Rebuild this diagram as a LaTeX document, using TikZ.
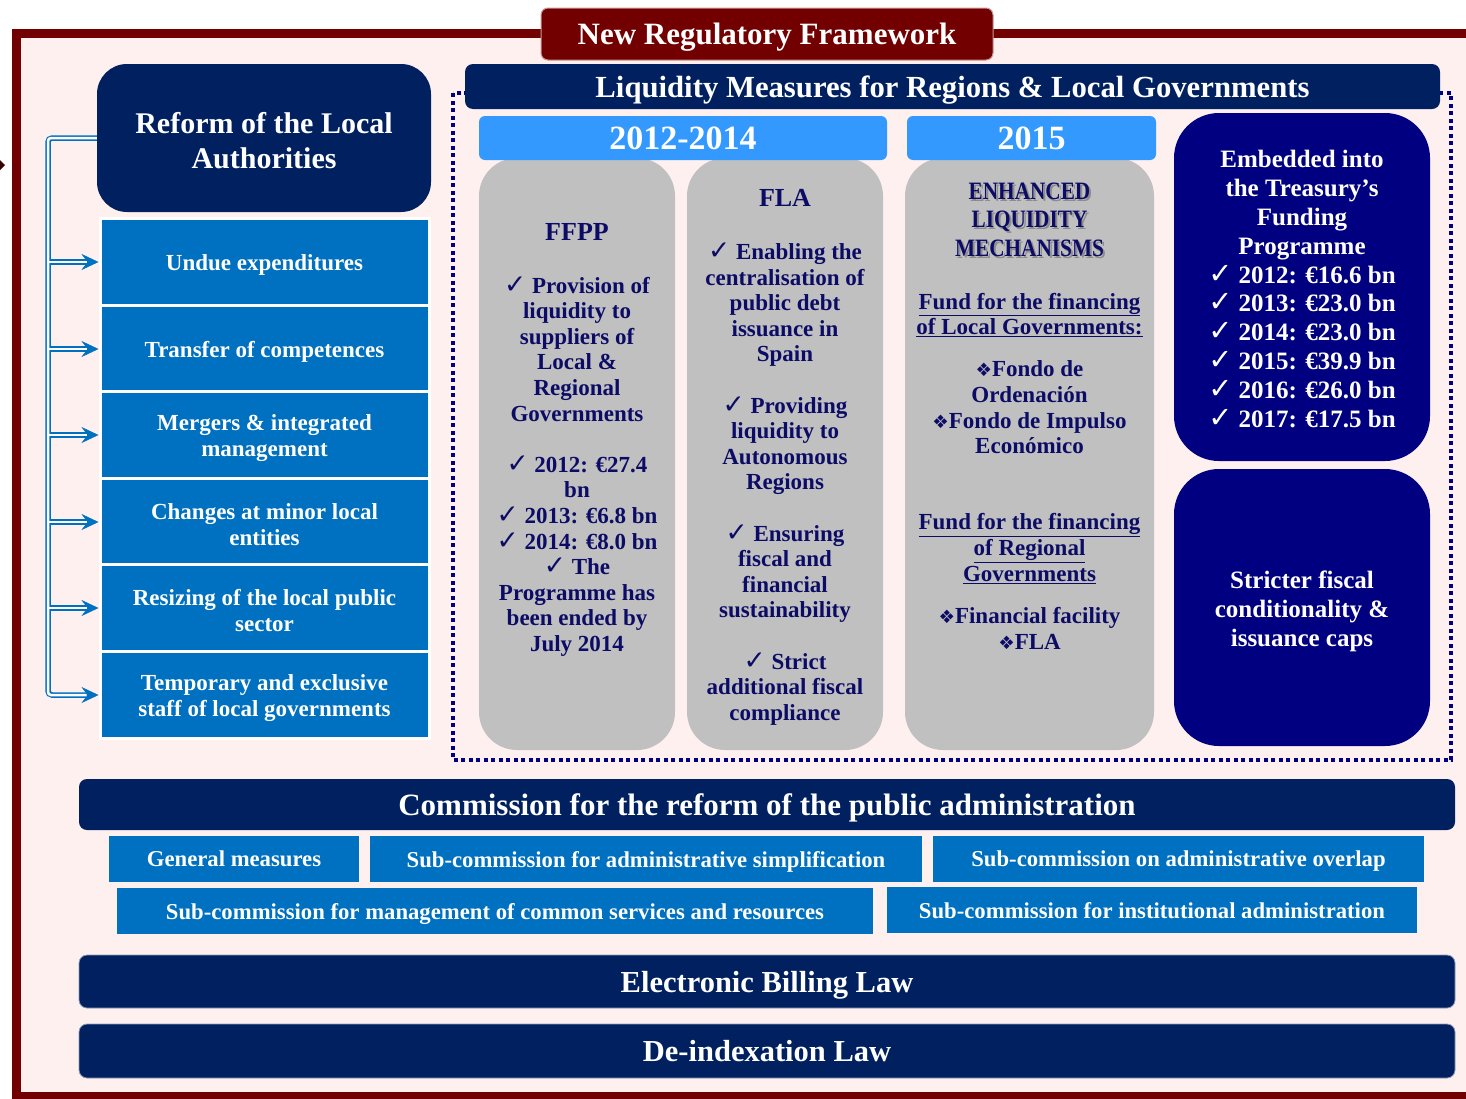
\documentclass[tikz,border=0pt]{standalone}
\usepackage{fontspec}
\setmainfont{Liberation Serif}
\newfontfamily\symfont[Scale=1.15]{DejaVu Sans}
\newfontfamily\dmfont[Scale=0.8]{DejaVu Sans}
\newfontfamily\narrowfont[FakeStretch=0.85]{Liberation Serif}
\usetikzlibrary{positioning,arrows.meta}

\definecolor{frameRed}{HTML}{720000}
\definecolor{paperPink}{HTML}{FFF0F0}
\definecolor{deepNavy}{HTML}{002060}
\definecolor{navyBlue}{HTML}{000080}
\definecolor{boxBlue}{HTML}{0070C0}
\definecolor{skyBlue}{HTML}{3399FF}
\definecolor{colGray}{HTML}{C0C0C0}
\definecolor{inkNavy}{HTML}{0C0C66}

\newcommand{\fs}[2]{\fontsize{#1}{#2}\selectfont}
\newcommand{\ck}{{\symfont ✓}\ }
\newcommand{\dm}{{\dmfont ❖}}

\tikzset{
  band/.style={fill=deepNavy, rounded corners=8pt, text=white, inner sep=0pt, text depth=0pt,
    font=\bfseries\fs{31}{35}},
  yearbox/.style={fill=skyBlue, rounded corners=6pt, text=white, inner sep=0pt,
    minimum height=44pt, font=\bfseries\fs{34}{38}},
  column/.style={fill=colGray, rounded corners=38pt, minimum height=592pt, inner sep=0pt},
  bigbox/.style={fill=navyBlue, rounded corners=45pt, minimum width=256pt, inner sep=0pt},
  leftbox/.style={fill=boxBlue, draw=white, line width=3pt, minimum width=329pt,
    minimum height=86.6pt, inner sep=0pt},
  boxTxt/.style={text=white, align=center, inner sep=0pt, font=\bfseries\fs{23}{26}},
  subbox/.style={fill=boxBlue, minimum height=46pt, text=white, inner sep=0pt, text depth=0pt,
    font=\bfseries\fs{22.7}{26}},
  colTxt/.style={text=inkNavy, align=center, inner sep=0pt, font=\bfseries\fs{23}{25.6}},
  colHead/.style={text=inkNavy, inner sep=0pt, font=\bfseries\fs{26}{30}},
  whiteTxt/.style={text=white, align=center, inner sep=0pt, font=\bfseries\fs{25}{28.9}},
  pipe/.style={draw=boxBlue, line width=5.5pt},
  pipeCore/.style={draw=white, line width=2.5pt},
  pipeTip/.style={-{Stealth[length=17pt, width=16pt, inset=6pt, line width=0.5pt]}}
}

\begin{document}
\begin{tikzpicture}[x=1pt, y=-1pt]
\useasboundingbox (0,0) rectangle (1466,1098);

% outer frame
\draw[frameRed, line width=9pt, fill=paperPink] (16,33) rectangle (1480,1096);
\fill[frameRed!50!black] (-5,165) -- (0,160) -- (5,165) -- (0,170) -- cycle;

\node[fill=frameRed, draw=frameRed!40, line width=1pt, rounded corners=7pt,
  minimum width=452pt, minimum height=52pt, inner sep=0pt, text=white, text depth=0pt,
  font=\bfseries\fs{31}{35}] (nrf) at (767,34) {New Regulatory Framework};

% liquidity measures
\draw[navyBlue, line width=4pt, dash pattern=on 4pt off 3.5pt] (453,93) rectangle (1451,760);
\node[band, minimum width=975pt, minimum height=45pt, font=\bfseries\fs{30.7}{35}]
  (liq) at (952.5,86.5) {Liquidity Measures for Regions \& Local Governments};

\node[column, minimum width=196pt] (ffpp) at (577,454) {};
\node[column, minimum width=196pt] (fla) at (785,454) {};
\node[column, minimum width=249pt] (elm) at (1029.5,454) {};
\node[yearbox, minimum width=408pt] (yrA) at (683,138) {2012-2014};
\node[yearbox, minimum width=249pt] (yrB) at (1031.5,138) {2015};

\node[colHead] (ffppHead) at (577,232) {FFPP};
\node[colTxt] (ffppBody) at (577,466.5) {\ck Provision of\\liquidity to\\suppliers of\\Local \&\\Regional\\Governments\\[25.6pt]
  \ck 2012: €27.4\\bn\\\ck 2013: €6.8 bn\\\ck 2014: €8.0 bn\\\ck The\\Programme has\\been ended by\\July 2014};

\node[colHead] (flaHead) at (785,198) {FLA};
\node[colTxt] (flaBody) at (785,484) {\ck Enabling the\\centralisation of\\public debt\\issuance in\\Spain\\[25.6pt]
  \ck Providing\\liquidity to\\Autonomous\\Regions\\[25.6pt]
  \ck Ensuring\\fiscal and\\financial\\sustainability\\[25.6pt]
  \ck Strict\\additional fiscal\\compliance};

\node[colTxt, text=black!45, font=\narrowfont\bfseries\fs{25}{28.5}] (elmShadow) at (1031.5,221.5)
  {ENHANCED\\LIQUIDITY\\MECHANISMS};
\node[colTxt, font=\narrowfont\bfseries\fs{25}{28.5}] (elmHead) at (1029.5,219.5)
  {ENHANCED\\LIQUIDITY\\MECHANISMS};
\node[colTxt] (fundLocal) at (1029.5,315) {\underline{Fund for the financing}\\\underline{of Local Governments:}};
\node[colTxt] (fondos) at (1029.5,407.5) {\dm Fondo de\\Ordenación\\\dm Fondo de Impulso\\Económico};
\node[colTxt] (fundReg) at (1029.5,548.5) {\underline{Fund for the financing}\\\underline{of Regional}\\\underline{Governments}};
\node[colTxt] (facil) at (1029.5,628.5) {\dm Financial facility\\\dm FLA};

\node[bigbox, minimum height=348pt] (embed) at (1302,287) {};
\node[whiteTxt] (embedTxt) at (1302,289) {Embedded into\\the Treasury’s\\Funding\\Programme\\
  \ck 2012: €16.6 bn\\\ck 2013: €23.0 bn\\\ck 2014: €23.0 bn\\\ck 2015: €39.9 bn\\\ck 2016: €26.0 bn\\\ck 2017: €17.5 bn};
\node[bigbox, minimum height=277pt] (strict) at (1302,607.5) {};
\node[whiteTxt] (strictTxt) at (1302,611.5) {Stricter fiscal\\conditionality \&\\issuance caps};

% reform of the local authorities
\node[band, rounded corners=30pt, minimum width=334pt, minimum height=148pt] (reform) at (264,138) {};
\node[boxTxt, font=\bfseries\fs{30}{35}] (reformTxt) at (264,141) {Reform of the Local\\Authorities};
\foreach \i/\yc/\txt in {1/262/{Undue expenditures}, 2/349/{Transfer of competences},
    3/435/{Mergers \& integrated\\management}, 4/522/{Changes at minor local\\entities},
    5/608/{Resizing of the local public\\sector}, 6/695/{Temporary and exclusive\\staff of local governments}}{
  \node[leftbox] (lb\i) at (264.5,\yc) {};
  \node[boxTxt] (lt\i) at (264.5,\yc+3) {\txt};
}

\coordinate (spTop) at (48,138);
\coordinate (spBot) at (48,695);
\draw[pipe, pipeTip, rounded corners=4pt] (reform.west) -- (spTop) -- (spBot) -- (lb6.west);
\foreach \i in {1,...,5}
  \draw[pipe, pipeTip] (spTop |- lb\i.west) -- (lb\i.west);
\draw[pipeCore, rounded corners=3pt, shorten >=12pt] (reform.west) -- (spTop) -- (spBot) -- (lb6.west);
\foreach \i in {1,...,5}
  \draw[pipeCore, shorten >=12pt] (spTop |- lb\i.west) -- (lb\i.west);

% commission and laws
\node[band, minimum width=1376pt, minimum height=51pt] (comm) at (767,804.5)
  {Commission for the reform of the public administration};
\node[subbox, minimum width=250pt] (subGen) at (234,859) {General measures};
\node[subbox, minimum width=552pt] (subSimp) at (646,859) {Sub-commission for administrative simplification};
\node[subbox, minimum width=491pt] (subOver) at (1178.5,859) {Sub-commission on administrative overlap};
\node[subbox, minimum width=756pt] (subServ) at (495,911) {Sub-commission for management of common services and resources};
\node[subbox, minimum width=530pt] (subInst) at (1152,910) {Sub-commission for institutional administration};

\node[band, draw=deepNavy!45, line width=0.8pt, minimum width=1376pt, minimum height=53pt,
  font=\bfseries\fs{30.5}{35}] (billing) at (767,981.5) {Electronic Billing Law};
\node[band, draw=deepNavy!45, line width=0.8pt, minimum width=1376pt, minimum height=54pt,
  font=\bfseries\fs{30.5}{35}] (deindex) at (767,1051) {De-indexation Law};
\end{tikzpicture}
\end{document}
